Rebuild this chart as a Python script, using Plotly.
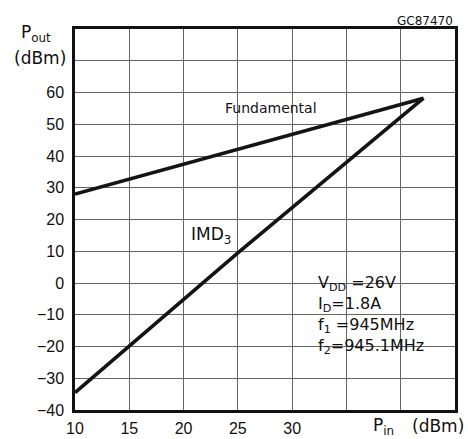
import plotly.graph_objects as go

# Data
pin_fund = [10, 42.1]
pout_fund = [28.0, 58.2]
pin_imd = [10, 25, 42.1]
pout_imd = [-34.5, 9.5, 58.2]

x_ticks = [10, 15, 20, 25, 30]
x_minor = [35, 40]
y_ticks = [-40, -30, -20, -10, 0, 10, 20, 30, 40, 50, 60]
y_ticktext = ["\u221240", "\u221230", "\u221220", "\u221210", "0", "10", "20", "30", "40", "50", "60"]
y_minor = [70]

conditions = ["V<sub>DD</sub> =26V", "I<sub>D</sub>=1.8A", "f<sub>1</sub> =945MHz", "f<sub>2</sub>=945.1MHz"]

FONT = "Liberation Sans, Arial, sans-serif"
FONT2 = "DejaVu Sans, sans-serif"
LINE_C = "#141414"
GRID_C = "#666666"

W, H = 468, 439
ML, MR, MT, MB = 75, 13, 29, 29

fig = go.Figure()
fig.add_trace(go.Scatter(x=pin_fund, y=pout_fund, mode="lines",
                         line=dict(color=LINE_C, width=3.6), showlegend=False, hoverinfo="skip"))
fig.add_trace(go.Scatter(x=pin_imd, y=pout_imd, mode="lines",
                         line=dict(color=LINE_C, width=3.6), showlegend=False, hoverinfo="skip"))

fig.update_layout(
    width=W, height=H,
    margin=dict(l=ML, r=MR, t=MT, b=MB, pad=0, autoexpand=False),
    paper_bgcolor="white", plot_bgcolor="white",
    font=dict(family=FONT, size=16, color="#111"),
    showlegend=False,
)
fig.update_xaxes(range=[10, 45], tickmode="array", tickvals=x_ticks,
                 showgrid=True, gridcolor=GRID_C, gridwidth=1,
                 minor=dict(tickmode="array", tickvals=x_minor, showgrid=True, gridcolor=GRID_C, gridwidth=1, ticks=""),
                 showline=True, linecolor="#111", linewidth=2.5, mirror=True, automargin=False,
                 ticks="", zeroline=False, tickfont=dict(size=16, family=FONT), ticklabelstandoff=2)
fig.update_yaxes(range=[-40, 80], tickmode="array", tickvals=y_ticks, ticktext=y_ticktext,
                 showgrid=True, gridcolor=GRID_C, gridwidth=1,
                 minor=dict(tickmode="array", tickvals=y_minor, showgrid=True, gridcolor=GRID_C, gridwidth=1, ticks=""),
                 showline=True, linecolor="#111", linewidth=2.5, mirror=True, automargin=False,
                 ticks="", zeroline=False, tickfont=dict(size=16, family=FONT), ticklabelstandoff=5)

ann = [
    dict(x=36, y=33, text="P<sub>out</sub>", xanchor="center", size=17),
    dict(x=40, y=58, text="(dBm)", xanchor="center", size=17),
    dict(x=455, y=21, text="GC87470", xanchor="right", size=12),
    dict(x=383, y=426, text="P<sub>in</sub>", xanchor="center", size=17),
    dict(x=466, y=426, text="(dBm)", xanchor="right", size=17),
    dict(x=271, y=108, text="Fundamental", xanchor="center", size=14),
    dict(x=189, y=235, text="IMD<sub>3</sub>", xanchor="left", size=17),
]
for i, t in enumerate(conditions):
    ann.append(dict(x=316, y=283 + i * 21.3, text=t, xanchor="left", size=16))

pw = W - ML - MR
ph = H - MT - MB
for a in ann:
    fig.add_annotation(x=(a["x"] - ML) / pw, y=(H - MB - a["y"]) / ph, xref="paper", yref="paper",
                       text=a["text"], showarrow=False, xanchor=a["xanchor"], yanchor="middle",
                       font=dict(family=FONT2, size=a.get("size", 16), color="#111"))

fig.write_html("out.html", config={"displayModeBar": False},
               post_script="document.body.style.margin='0px';document.body.style.padding='0px';document.body.style.overflow='hidden';")
